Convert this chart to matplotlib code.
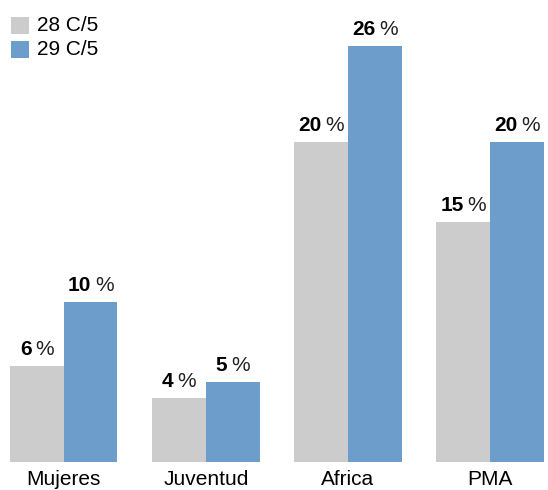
import matplotlib
matplotlib.use("Agg")
import matplotlib.pyplot as plt
from matplotlib.patches import Rectangle
from matplotlib.transforms import offset_copy
import numpy as np

categories = ["Mujeres", "Juventud", "Africa", "PMA"]
series_names = ["28 C/5", "29 C/5"]
values_28 = [6, 4, 20, 15]
values_29 = [10, 5, 26, 20]

colors = ["#cccccc", "#6d9ecb"]
plt.rcParams["font.family"] = ["Liberation Sans", "DejaVu Sans"]

W, H, DPI = 548, 490, 100
fig = plt.figure(figsize=(W / DPI, H / DPI), dpi=DPI)
ax = fig.add_axes([0, 28 / H, 1, 1 - 28 / H])

x = np.arange(len(categories))
width = 0.377
b1 = ax.bar(x - width / 2, values_28, width, color=colors[0], linewidth=0)
b2 = ax.bar(x + width / 2, values_29, width, color=colors[1], linewidth=0)

ax.set_xlim(-0.45, 3.408)
ax.set_ylim(0, 28.875)
for s in ax.spines.values():
    s.set_visible(False)
ax.set_yticks([])
ax.set_xticks(x)
ax.set_xticklabels(categories, fontsize=15)
ax.tick_params(axis="x", length=0, pad=6)

# value labels: bold number followed by a regular percent sign, centred on the bar
fig.canvas.draw()
renderer = fig.canvas.get_renderer()
gap = 4  # pixels between number and percent sign
for bars, vals in ((b1, values_28), (b2, values_29)):
    for rect, v in zip(bars, vals):
        cx = rect.get_x() + rect.get_width() / 2
        top = rect.get_height()
        num = ax.text(cx, top, f"{v}", fontsize=15, fontweight="bold",
                      ha="left", va="bottom")
        pct = ax.text(cx, top, "%", fontsize=15, ha="left", va="bottom",
                      color="#222222")
        wn = num.get_window_extent(renderer).width
        wp = pct.get_window_extent(renderer).width
        total = wn + gap + wp
        dy = 5
        num.set_transform(offset_copy(ax.transData, fig=fig, x=-total / 2 * 72 / DPI,
                                      y=dy, units="points"))
        pct.set_transform(offset_copy(ax.transData, fig=fig,
                                      x=(-total / 2 + wn + gap) * 72 / DPI,
                                      y=dy, units="points"))

# legend drawn as swatches with labels in the upper-left corner
for i, (name, c) in enumerate(zip(series_names, colors)):
    y0 = 17 + i * 24
    fig.patches.append(Rectangle((11 / W, 1 - (y0 + 17) / H), 18 / W, 17 / H,
                                 transform=fig.transFigure, color=c, linewidth=0))
    fig.text(37 / W, 1 - (y0 + 8.5) / H, name, fontsize=15, va="center", ha="left")

fig.savefig("out.png", dpi=DPI)
